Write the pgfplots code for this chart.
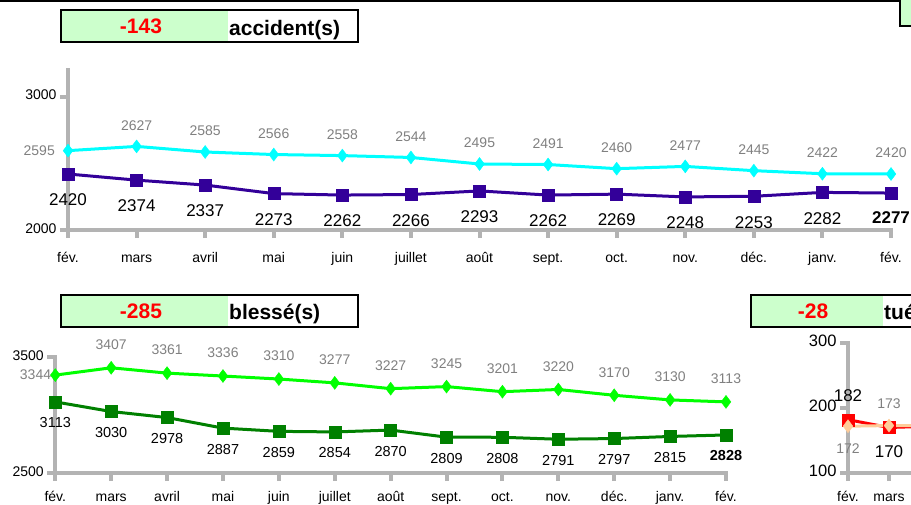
\documentclass[border=0pt]{standalone}
\usepackage{fontspec}
\setmainfont{Liberation Sans}
\usepackage{pgfplots}
\usepackage{pgfplotstable}
\pgfplotsset{compat=1.18}
\pgfkeys{/pgf/number format/.cd,1000 sep={},assume math mode=true}

\definecolor{axgrey}{HTML}{B3B3B3}
\definecolor{lblgrey}{HTML}{808080}
\definecolor{navy}{HTML}{330099}
\definecolor{cyanc}{HTML}{00FFFF}
\definecolor{limec}{HTML}{00FF00}
\definecolor{dgreen}{HTML}{008000}
\definecolor{peach}{HTML}{FFCC99}
\definecolor{boxgreen}{HTML}{CCFFCC}

\pgfplotstableread{
x cur prev
0 2420 2595
1 2374 2627
2 2337 2585
3 2273 2566
4 2262 2558
5 2266 2544
6 2293 2495
7 2262 2491
8 2269 2460
9 2248 2477
10 2253 2445
11 2282 2422
12 2277 2420
}\acc
\pgfplotstableread{
x cur prev
0 3113 3344
1 3030 3407
2 2978 3361
3 2887 3336
4 2859 3310
5 2854 3277
6 2870 3227
7 2809 3245
8 2808 3201
9 2791 3220
10 2797 3170
11 2815 3130
12 2828 3113
}\bles
\pgfplotstableread{
x cur prev
0 182 172
1 170 173
2 172 173
}\tues

\pgfplotsset{
  dash/.style={
    scale only axis, axis lines=left,
    axis line style={-, line width=4pt, draw=axgrey, line cap=rect},
    tick align=outside, major tick length=8pt,
    tick style={line width=4pt, draw=axgrey},
    xmin=0, xmax=12, xtick={0,...,12},
    xticklabels={fév.,mars,avril,mai,juin,juillet,août,sept.,oct.,nov.,déc.,janv.,fév.},
    typeset ticklabels with strut,
    every tick label/.append style={font=\fontsize{14}{16}\selectfont, text=black},
    clip=false,
  },
  lbl/.style={draw=none, mark=none, nodes near coords,
    nodes near coords style={anchor=center, inner sep=0pt, #1}},
}

\begin{document}
\begin{tikzpicture}[x=1pt,y=1pt]
\useasboundingbox (0,0) rectangle (911,504);
\clip (0,0) rectangle (911,504);

% ---------- accidents ----------
\begin{axis}[dash, at={(68pt,274pt)}, anchor=south west, width=823pt, height=160pt,
  ymin=2000, ymax=3200, ytick={2000,3000}, xticklabel style={yshift=-10pt}]
\addplot[navy, line width=3pt, mark=square*, mark size=6pt, mark options={line width=0.4pt}] table[x=x,y=cur]{\acc};
\addplot[cyanc, line width=3pt, mark=diamond*, mark size=6.5pt, mark options={line width=0.4pt}] table[x=x,y=prev]{\acc};
\addplot[lbl={font=\fontsize{17}{19}\selectfont, yshift=-26pt}, restrict x to domain=0:11] table[x=x,y=cur]{\acc};
\addplot[lbl={font=\fontsize{17}{19}\selectfont\bfseries, yshift=-24pt}, restrict x to domain=12:12] table[x=x,y=cur]{\acc};
\addplot[lbl={font=\fontsize{14}{16}\selectfont, text=lblgrey, yshift=21pt}, restrict x to domain=1:12] table[x=x,y=prev]{\acc};
\addplot[lbl={font=\fontsize{14}{16}\selectfont, text=lblgrey, anchor=east, xshift=-13pt}, restrict x to domain=0:0] table[x=x,y=prev]{\acc};
\end{axis}

% ---------- blesses ----------
\begin{axis}[dash, at={(55.3pt,31pt)}, anchor=south west, width=670.7pt, height=116pt,
  ymin=2500, ymax=3500, ytick={2500,3500}, xticklabel style={yshift=-6pt}]
\addplot[dgreen, line width=3pt, mark=square*, mark size=6pt, mark options={line width=0.4pt}] table[x=x,y=cur]{\bles};
\addplot[limec, line width=3pt, mark=diamond*, mark size=6.5pt, mark options={line width=0.4pt}] table[x=x,y=prev]{\bles};
\addplot[lbl={font=\fontsize{14.5}{16}\selectfont, yshift=-21pt}, restrict x to domain=0:11] table[x=x,y=cur]{\bles};
\addplot[lbl={font=\fontsize{14.5}{16}\selectfont\bfseries, yshift=-21pt}, restrict x to domain=12:12] table[x=x,y=cur]{\bles};
\addplot[lbl={font=\fontsize{14}{16}\selectfont, text=lblgrey, yshift=23pt}, restrict x to domain=1:12] table[x=x,y=prev]{\bles};
\addplot[lbl={font=\fontsize{14}{16}\selectfont, text=lblgrey, anchor=east, xshift=-4pt}, restrict x to domain=0:0] table[x=x,y=prev]{\bles};
\end{axis}

% ---------- tues ----------
\begin{axis}[dash, at={(848pt,31pt)}, anchor=south west, width=492pt, height=130pt,
  ymin=100, ymax=300, ytick={100,200,300}, xticklabel style={yshift=-6pt},
  yticklabel style={font=\fontsize{16.5}{18}\selectfont}]
\addplot[red, line width=3pt, mark=square*, mark size=6pt, mark options={line width=0.4pt}] table[x=x,y=cur]{\tues};
\addplot[peach, line width=3pt, mark=diamond*, mark size=6.5pt, mark options={line width=0.4pt}] table[x=x,y=prev]{\tues};
\addplot[lbl={font=\fontsize{17}{19}\selectfont, yshift=24pt}, restrict x to domain=0:0] table[x=x,y=cur]{\tues};
\addplot[lbl={font=\fontsize{17}{19}\selectfont, yshift=-24pt}, restrict x to domain=1:1] table[x=x,y=cur]{\tues};
\addplot[lbl={font=\fontsize{14}{16}\selectfont, text=lblgrey, yshift=-22pt}, restrict x to domain=0:0] table[x=x,y=prev]{\tues};
\addplot[lbl={font=\fontsize{14}{16}\selectfont, text=lblgrey, yshift=22pt}, restrict x to domain=1:1] table[x=x,y=prev]{\tues};
\end{axis}

% ---------- title boxes ----------
\fill[boxgreen] (61,462) rectangle (228,494);
\draw[line width=2pt] (61,462) rectangle (358,494);
\node[text=red, font=\fontsize{21}{24}\selectfont\bfseries, anchor=base, inner sep=0pt] at (141,470) {-143};
\node[font=\fontsize{21}{24}\selectfont\bfseries, anchor=base west, inner sep=0pt] at (229,468.5) {accident(s)};

\fill[boxgreen] (61,177) rectangle (228,209);
\draw[line width=2pt] (61,177) rectangle (358,209);
\node[text=red, font=\fontsize{21}{24}\selectfont\bfseries, anchor=base, inner sep=0pt] at (141,185.5) {-285};
\node[font=\fontsize{21}{24}\selectfont\bfseries, anchor=base west, inner sep=0pt] at (229,184) {blessé(s)};

\fill[boxgreen] (751,177) rectangle (883,209);
\draw[line width=2pt] (751,177) rectangle (980,209);
\node[text=red, font=\fontsize{21}{24}\selectfont\bfseries, anchor=base, inner sep=0pt] at (813,185.5) {-28};
\node[font=\fontsize{21}{24}\selectfont\bfseries, anchor=base west, inner sep=0pt] at (884,184) {tué(s)};

% ---------- top frame ----------
\fill[boxgreen] (900,478) rectangle (915,506);
\draw[line width=2.5pt] (-5,503) -- (900,503) -- (900,478) -- (915,478);
\end{tikzpicture}
\end{document}
